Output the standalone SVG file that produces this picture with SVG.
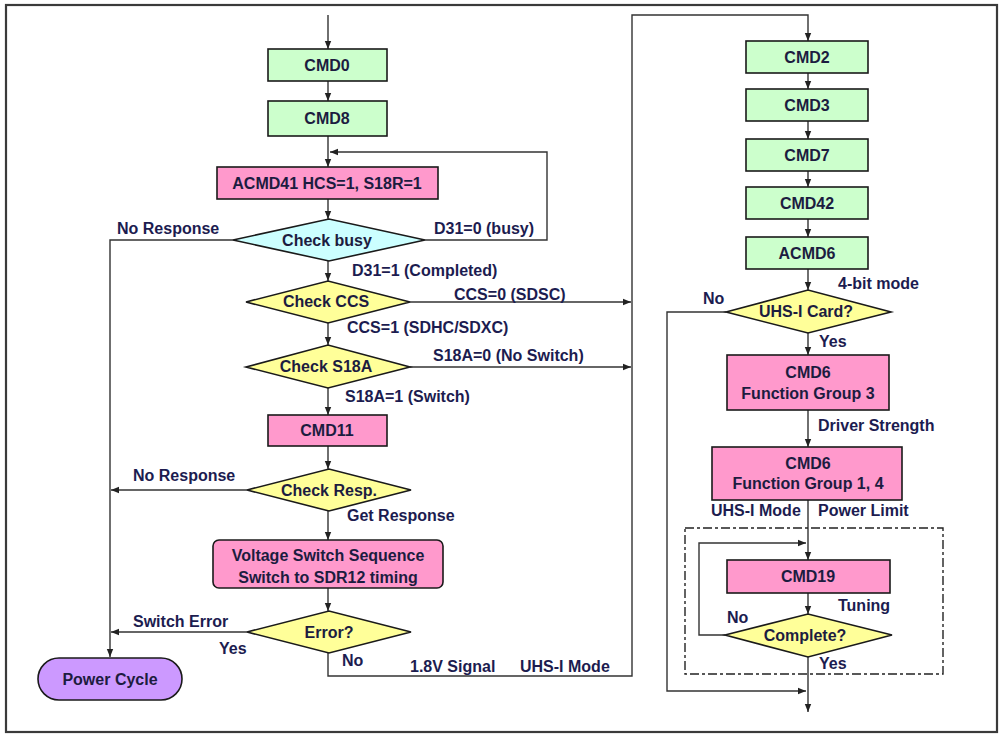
<svg xmlns="http://www.w3.org/2000/svg" width="1001" height="735" viewBox="0 0 1001 735">
  <style>
    .box { stroke: #1a1a1a; stroke-width: 1.6; }
    .green { fill: #ccffcc; }
    .pink { fill: #ff99cc; }
    .cyan { fill: #ccffff; }
    .yellow { fill: #ffff99; }
    .purple { fill: #cc99ff; }
    .t { font-family: "Liberation Sans", Arial, sans-serif; font-weight: bold; font-size: 16px; fill: #1c1c40; }
    .c { text-anchor: middle; dominant-baseline: central; }
    .lbl { font-family: "Liberation Sans", Arial, sans-serif; font-weight: bold; font-size: 16px; fill: #1c1c50; }
    .wire { fill: none; stroke: #333; stroke-width: 1.4; }
    .arr { marker-end: url(#head); }
  </style>
  <defs>
    <marker id="head" viewBox="0 0 8 8" refX="8" refY="4" markerWidth="8" markerHeight="8" markerUnits="userSpaceOnUse" orient="auto">
      <path d="M0,0.8 L8,4 L0,7.2 Z" fill="#222"/>
    </marker>
  </defs>

  <rect x="6" y="5" width="991" height="727" fill="#ffffff" stroke="#3a3a3a" stroke-width="2.2"/>

  <!-- connectors -->
  <g id="connectors">
    <path class="wire arr" d="M328,15 V49"/>
    <path class="wire arr" d="M328,81 V101"/>
    <path class="wire arr" d="M328,136 V167"/>
    <path class="wire arr" d="M425,240 H547 V152 H330"/>
    <path class="wire arr" d="M328,199 V219"/>
    <path class="wire arr" d="M233,240 H110 V657"/>
    <path class="wire arr" d="M328,261 V281"/>
    <path class="wire arr" d="M410,302 H631"/>
    <path class="wire arr" d="M328,323 V345"/>
    <path class="wire arr" d="M410,367 H631"/>
    <path class="wire arr" d="M328,388 V415"/>
    <path class="wire arr" d="M328,446 V469"/>
    <path class="wire arr" d="M247,490 H111"/>
    <path class="wire arr" d="M328,511 V540"/>
    <path class="wire arr" d="M328,588 V611"/>
    <path class="wire arr" d="M247,632 H111"/>
    <path class="wire arr" d="M328,653 V676 H632 V15 H808 V41"/>

    <path class="wire arr" d="M808,73 V89"/>
    <path class="wire arr" d="M808,121 V139"/>
    <path class="wire arr" d="M808,171 V187"/>
    <path class="wire arr" d="M808,219 V237"/>
    <path class="wire arr" d="M808,269 V290"/>
    <path class="wire arr" d="M726,312 H667 V691 H806"/>
    <path class="wire arr" d="M808,333 V355"/>
    <path class="wire arr" d="M808,410 V447"/>
    <path class="wire arr" d="M808,500 V560"/>
    <path class="wire arr" d="M725,635 H699 V543 H806"/>
    <path class="wire arr" d="M808,593 V614"/>
    <path class="wire arr" d="M808,657 V712"/>

    <!-- tuning block outline -->
    <rect x="685" y="528" width="258" height="146" fill="none" stroke="#222" stroke-width="1.4" stroke-dasharray="9 3 3 3"/>
  </g>

  <!-- left column -->
  <g id="cmd0">
    <rect class="box green" x="268" y="49" width="119" height="32"/>
    <text class="t c" x="327" y="65">CMD0</text>
  </g>
  <g id="cmd8">
    <rect class="box green" x="268" y="101" width="119" height="35"/>
    <text class="t c" x="327" y="118">CMD8</text>
  </g>
  <g id="acmd41">
    <rect class="box pink" x="217" y="167" width="221" height="32"/>
    <text class="t c" x="327" y="183">ACMD41 HCS=1, S18R=1</text>
  </g>
  <g id="check-busy">
    <polygon class="box cyan" points="233,240 329,219 425,240 329,261"/>
    <text class="t c" x="327" y="240">Check busy</text>
  </g>
  <g id="check-ccs">
    <polygon class="box yellow" points="246,302 328,281 410,302 328,323"/>
    <text class="t c" x="326" y="301">Check CCS</text>
  </g>
  <g id="check-s18a">
    <polygon class="box yellow" points="246,367 328,345 410,367 328,388"/>
    <text class="t c" x="326" y="366">Check S18A</text>
  </g>
  <g id="cmd11">
    <rect class="box pink" x="268" y="415" width="119" height="31"/>
    <text class="t c" x="327" y="430">CMD11</text>
  </g>
  <g id="check-resp">
    <polygon class="box yellow" points="247,490 329,469 411,490 329,511"/>
    <text class="t c" x="329" y="490">Check Resp.</text>
  </g>
  <g id="voltage-switch">
    <rect class="box pink" x="213" y="540" width="230" height="48" rx="6"/>
    <text class="t c" x="328" y="555">Voltage Switch Sequence</text>
    <text class="t c" x="328" y="577">Switch to SDR12 timing</text>
  </g>
  <g id="error">
    <polygon class="box yellow" points="247,632 329,611 411,632 329,653"/>
    <text class="t c" x="329" y="632">Error?</text>
  </g>
  <g id="power-cycle">
    <rect class="box purple" x="38" y="658" width="144" height="42" rx="21"/>
    <text class="t c" x="110" y="679">Power Cycle</text>
  </g>

  <!-- right column -->
  <g id="cmd2">
    <rect class="box green" x="746" y="41" width="122" height="32"/>
    <text class="t c" x="807" y="57">CMD2</text>
  </g>
  <g id="cmd3">
    <rect class="box green" x="746" y="89" width="122" height="32"/>
    <text class="t c" x="807" y="105">CMD3</text>
  </g>
  <g id="cmd7">
    <rect class="box green" x="746" y="139" width="122" height="32"/>
    <text class="t c" x="807" y="155">CMD7</text>
  </g>
  <g id="cmd42">
    <rect class="box green" x="746" y="187" width="122" height="32"/>
    <text class="t c" x="807" y="203">CMD42</text>
  </g>
  <g id="acmd6">
    <rect class="box green" x="746" y="237" width="122" height="32"/>
    <text class="t c" x="807" y="253">ACMD6</text>
  </g>
  <g id="uhs-card">
    <polygon class="box yellow" points="726,312 808,290 891,312 808,333"/>
    <text class="t c" x="806" y="311">UHS-I Card?</text>
  </g>
  <g id="cmd6-fg3">
    <rect class="box pink" x="727" y="355" width="162" height="55"/>
    <text class="t c" x="808" y="372">CMD6</text>
    <text class="t c" x="808" y="393">Function Group 3</text>
  </g>
  <g id="cmd6-fg14">
    <rect class="box pink" x="712" y="447" width="190" height="53"/>
    <text class="t c" x="808" y="463">CMD6</text>
    <text class="t c" x="808" y="483">Function Group 1, 4</text>
  </g>
  <g id="cmd19">
    <rect class="box pink" x="727" y="560" width="163" height="33"/>
    <text class="t c" x="808" y="576">CMD19</text>
  </g>
  <g id="complete">
    <polygon class="box yellow" points="725,635 808,614 892,635 808,657"/>
    <text class="t c" x="805" y="635">Complete?</text>
  </g>

  <!-- edge labels -->
  <g id="labels">
    <text class="lbl" x="117" y="234">No Response</text>
    <text class="lbl" x="434" y="234">D31=0 (busy)</text>
    <text class="lbl" x="352" y="276">D31=1 (Completed)</text>
    <text class="lbl" x="454" y="300">CCS=0 (SDSC)</text>
    <text class="lbl" x="347" y="333">CCS=1 (SDHC/SDXC)</text>
    <text class="lbl" x="433" y="361">S18A=0 (No Switch)</text>
    <text class="lbl" x="345" y="402">S18A=1 (Switch)</text>
    <text class="lbl" x="133" y="481">No Response</text>
    <text class="lbl" x="347" y="521">Get Response</text>
    <text class="lbl" x="133" y="627">Switch Error</text>
    <text class="lbl" x="219" y="654">Yes</text>
    <text class="lbl" x="342" y="666">No</text>
    <text class="lbl" x="410" y="672">1.8V Signal</text>
    <text class="lbl" x="520" y="672">UHS-I Mode</text>
    <text class="lbl" x="838" y="289">4-bit mode</text>
    <text class="lbl" x="703" y="304">No</text>
    <text class="lbl" x="819" y="347">Yes</text>
    <text class="lbl" x="818" y="431">Driver Strength</text>
    <text class="lbl" x="711" y="516">UHS-I Mode</text>
    <text class="lbl" x="818" y="516">Power Limit</text>
    <text class="lbl" x="838" y="611">Tuning</text>
    <text class="lbl" x="727" y="623">No</text>
    <text class="lbl" x="819" y="669">Yes</text>
  </g>
</svg>
